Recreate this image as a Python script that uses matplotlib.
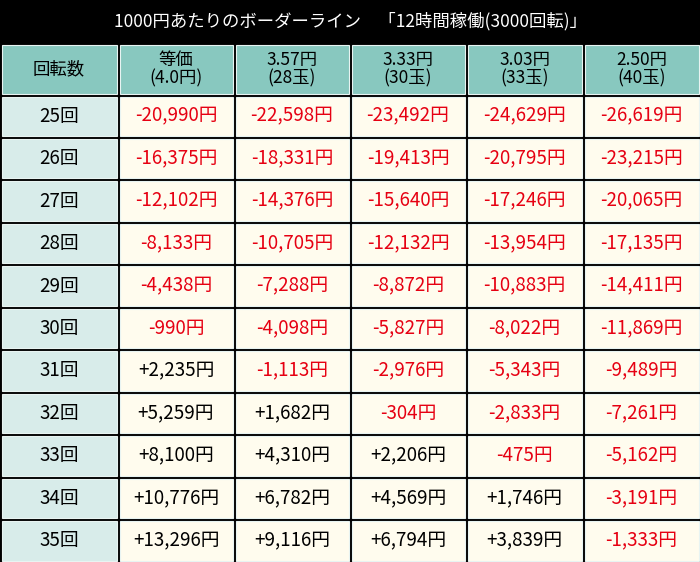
import matplotlib
matplotlib.use("Agg")
import matplotlib.pyplot as plt
from matplotlib.patches import Rectangle

plt.rcParams['font.family'] = ['Noto Sans CJK JP', 'DejaVu Sans']

title = "1000円あたりのボーダーライン\u3000「12時間稼働(3000回転)」"
headers = ["回転数", "等価\n(4.0円)", "3.57円\n(28玉)", "3.33円\n(30玉)", "3.03円\n(33玉)", "2.50円\n(40玉)"]
spins = ["25回", "26回", "27回", "28回", "29回", "30回", "31回", "32回", "33回", "34回", "35回"]
values = [
    [-20990, -22598, -23492, -24629, -26619],
    [-16375, -18331, -19413, -20795, -23215],
    [-12102, -14376, -15640, -17246, -20065],
    [-8133, -10705, -12132, -13954, -17135],
    [-4438, -7288, -8872, -10883, -14411],
    [-990, -4098, -5827, -8022, -11869],
    [2235, -1113, -2976, -5343, -9489],
    [5259, 1682, -304, -2833, -7261],
    [8100, 4310, 2206, -475, -5162],
    [10776, 6782, 4569, 1746, -3191],
    [13296, 9116, 6794, 3839, -1333],
]

W, H = 700, 562
fig = plt.figure(figsize=(7, 5.62), dpi=100)
ax = fig.add_axes([0, 0, 1, 1])
ax.set_xlim(0, W)
ax.set_ylim(H, 0)
ax.axis("off")
fig.patch.set_facecolor("black")

col_x = [0, 118, 234, 350, 466, 583, 700]
title_h = 43
head_y0, head_y1 = 43, 95
row_h = (H - head_y1) / len(spins)
gap = 1.5

ax.text(W / 2, title_h / 2, title, color="white", ha="center", va="center", fontsize=12.5)


def cell(x0, x1, y0, y1, fc, text, color="black", size=13.5):
    ax.add_patch(Rectangle((x0 + gap, y0 + gap), x1 - x0 - 2 * gap, y1 - y0 - 2 * gap,
                           facecolor=fc, edgecolor="#e8f4f2", lw=0.8))
    ax.text((x0 + x1) / 2, (y0 + y1) / 2, text, color=color, ha="center", va="center",
            fontsize=size, linespacing=1.0)


for i, h in enumerate(headers):
    cell(col_x[i], col_x[i + 1], head_y0, head_y1, "#88c8bf", h, size=12.5)

for r, s in enumerate(spins):
    y0 = head_y1 + r * row_h
    cell(col_x[0], col_x[1], y0, y0 + row_h, "#d8ecea", s)
    for c, v in enumerate(values[r]):
        txt = f"{v:+,}円"
        cell(col_x[c + 1], col_x[c + 2], y0, y0 + row_h, "#fffcee", txt,
             color="#e60012" if v < 0 else "black")

fig.savefig("out.png", dpi=100, facecolor="black")
